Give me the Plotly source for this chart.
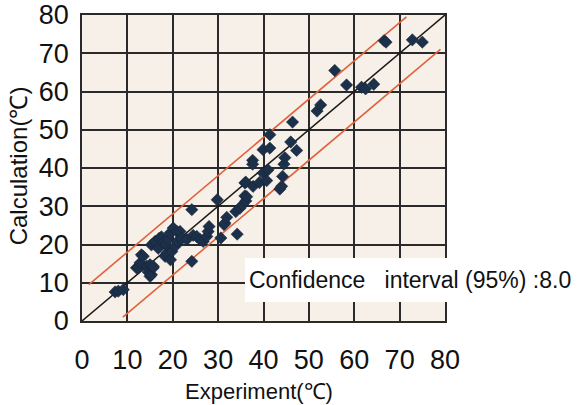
import plotly.graph_objects as go

# Measured (experiment) vs. calculated temperatures, °C
experiment = [
    7.3, 8.0, 9.1,
    12.0, 12.4, 12.8, 13.1, 13.5, 14.3, 14.6, 15.0, 15.0, 15.3, 15.7, 15.7,
    15.3, 16.1, 16.8, 17.0, 17.5, 17.9, 18.3, 18.5, 18.7, 19.0, 19.4, 19.5,
    19.8, 20.1, 20.5, 20.9, 21.0, 21.6, 22.0, 23.1, 24.5, 25.3, 26.0,
    24.2, 24.2, 26.7, 27.5, 27.8, 28.0,
    29.8, 30.6, 31.3, 31.5, 31.9, 33.9, 34.2, 34.8, 35.4, 35.9, 35.9, 36.1,
    36.1, 36.3, 37.6, 37.6, 37.7, 39.1, 39.9, 39.9, 40.7, 41.0, 41.4, 41.4,
    43.6, 44.0, 44.2, 44.5, 44.7, 46.0, 46.4, 47.3,
    51.8, 52.6, 55.7, 58.3, 61.6, 62.5, 64.3, 66.6, 67.0, 72.8, 75.0,
]
calculation = [
    7.6, 7.8, 8.2,
    13.9, 13.9, 15.2, 17.3, 16.9, 14.3, 12.8, 14.7, 11.7, 12.1, 13.9, 14.3,
    19.9, 20.8, 19.0, 21.6, 22.0, 20.4, 16.9, 20.0, 17.8, 21.3, 23.0, 16.0,
    18.2, 24.3, 19.5, 23.4, 20.8, 23.4, 21.5, 21.3, 22.4, 22.1, 21.3,
    29.1, 15.6, 20.8, 22.1, 23.4, 24.7,
    31.7, 21.7, 25.2, 25.6, 27.1, 28.6, 22.7, 29.5, 30.4, 32.7, 36.1, 31.4,
    36.3, 32.5, 42.0, 41.0, 35.2, 36.2, 38.7, 44.8, 36.7, 39.5, 45.2, 48.7,
    34.5, 35.2, 37.8, 41.0, 42.7, 46.8, 52.0, 44.6,
    54.9, 56.5, 65.5, 61.7, 61.1, 60.7, 61.9, 73.3, 72.9, 73.5, 72.9,
]

# Reference lines: perfect agreement and the ±8.0 °C confidence band
identity_x = [0, 80]
upper_x = [1.5, 71.5]
lower_x = [9.0, 79.0]
band = 8.0

ticks = [0, 10, 20, 30, 40, 50, 60, 70, 80]

FONT = "Liberation Sans, Arial"

fig = go.Figure()

fig.add_trace(go.Scatter(
    x=identity_x, y=identity_x, mode="lines",
    line=dict(color="#1a1a1a", width=1.5), hoverinfo="skip",
))
fig.add_trace(go.Scatter(
    x=upper_x, y=[v + band for v in upper_x], mode="lines",
    line=dict(color="#e0623c", width=1.6), hoverinfo="skip",
))
fig.add_trace(go.Scatter(
    x=lower_x, y=[v - band for v in lower_x], mode="lines",
    line=dict(color="#e0623c", width=1.6), hoverinfo="skip",
))
fig.add_trace(go.Scatter(
    x=experiment, y=calculation, mode="markers",
    marker=dict(symbol="diamond", size=9.5, color="#1d3049",
                line=dict(color="#14233a", width=0.5)),
))

axis_common = dict(
    range=[0, 80], tickvals=ticks, ticktext=[str(t) for t in ticks],
    showgrid=True, gridcolor="#2a2a2a", gridwidth=1.6,
    zeroline=False, showline=True, linecolor="#2a2a2a", linewidth=1.6,
    mirror=True, ticks="outside", tickcolor="rgba(0,0,0,0)",
    automargin=False,
    tickfont=dict(family=FONT, size=27, color="#111"),
)

fig.update_layout(
    width=580, height=405,
    margin=dict(l=82, r=135, t=15, b=84),
    paper_bgcolor="white",
    plot_bgcolor="#f7f0e8",
    showlegend=False,
    xaxis=dict(**axis_common, ticklen=14),
    yaxis=dict(**axis_common, ticklen=6),
    shapes=[dict(
        type="rect", xref="paper", yref="paper", layer="above",
        x0=0.449, x1=1.37, y0=0.062, y1=0.206,
        fillcolor="white", line=dict(width=0),
    )],
    annotations=[
        dict(
            x=0.455, y=0.134, xref="paper", yref="paper",
            xanchor="left", yanchor="middle",
            text="Confidence   interval (95%) :8.0", showarrow=False,
            font=dict(family=FONT, size=23, color="#111"),
        ),
        dict(
            x=0.488, y=-0.229, xref="paper", yref="paper",
            xanchor="center", yanchor="middle",
            text="Experiment(℃)", showarrow=False,
            font=dict(family=FONT, size=22, color="#111"),
        ),
        dict(
            x=-0.175, y=0.507, xref="paper", yref="paper",
            xanchor="center", yanchor="middle", textangle=-90,
            text="Calculation(℃)", showarrow=False,
            font=dict(family=FONT, size=24, color="#111"),
        ),
    ],
)

fig.write_html("out.html")
